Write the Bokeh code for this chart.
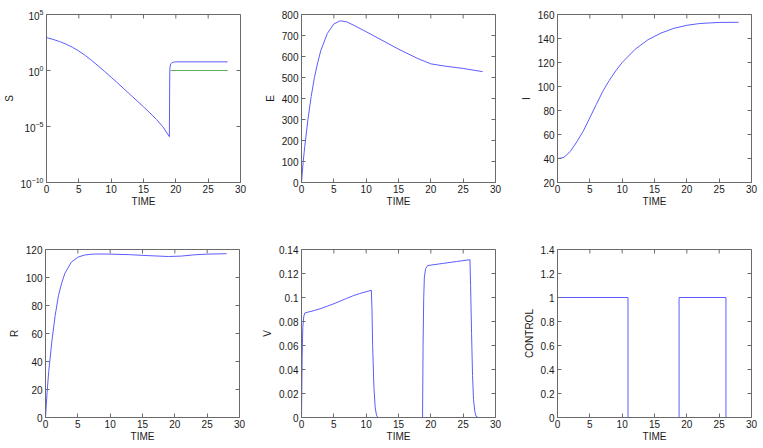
import math
from bokeh.plotting import figure
from bokeh.layouts import column, row
from bokeh.models import (FixedTicker, CustomJSTickFormatter, Range1d, LogTickFormatter)
from bokeh.embed import file_html
from bokeh.resources import INLINE

# ---------------- data ----------------
time_ticks = [0, 5, 10, 15, 20, 25, 30]

s_time = [0, 1, 2, 3, 4, 5, 6, 7, 8, 9, 10, 11, 12, 13, 14, 15, 16, 17, 18, 19.0,
          19.03, 19.06, 19.1, 19.2, 19.4, 19.7, 20, 22, 25, 28]
s_vals = [871, 603, 389, 229, 120, 55.0, 21.9, 7.76, 2.57, 0.813, 0.251, 0.0759,
          0.0224, 0.0066, 0.00195, 5.75e-4, 1.62e-4, 4.27e-5, 9.3e-6, 1.23e-6,
          1e-3, 0.5, 2.0, 3.8, 5.0, 5.7, 5.9, 5.9, 5.9, 5.9]
s2_time = [19.2, 28]
s2_vals = [1.0, 1.0]
s_ticks = [1e-10, 1e-5, 1, 1e5]

e_time = [0, 0.25, 0.5, 1, 1.5, 2, 2.5, 3, 4, 5, 6, 7, 8, 10, 12, 15, 18, 20, 22, 25, 28]
e_vals = [0, 95, 170, 300, 410, 500, 570, 630, 710, 755, 770, 765, 750, 718, 685,
          635, 590, 565, 555, 543, 528]
e_ticks = [0, 100, 200, 300, 400, 500, 600, 700, 800]

i_time = [0, 0.5, 1, 2, 3, 4, 5, 6, 7, 8, 9, 10, 12, 14, 16, 18, 20, 22, 25, 28]
i_vals = [40, 40.3, 41, 46, 54, 63, 74, 85, 96, 105, 113, 120, 131, 139, 144.5,
          148.5, 151, 152.5, 153.4, 153.5]
i_ticks = [20, 40, 60, 80, 100, 120, 140, 160]

r_time = [0, 0.25, 0.5, 1, 1.5, 2, 2.5, 3, 4, 5, 6, 7, 8, 10, 13, 16, 19, 21, 23, 25, 28]
r_vals = [0, 18, 33, 55, 73, 87, 96, 103, 111, 114.5, 116, 116.6, 116.8, 116.7,
          116.3, 115.6, 115.0, 115.3, 116.2, 116.7, 117.0]
r_ticks = [0, 20, 40, 60, 80, 100, 120]

v_time = [0, 0.1, 0.2, 0.35, 0.5, 1, 2, 3, 4, 5, 6, 7, 8, 9, 10, 10.8, 10.9, 11.0,
          11.2, 11.4, 11.6, 11.8, 18.72, 18.8, 18.9, 19.0, 19.2, 19.5, 20, 22, 24,
          26.05, 26.15, 26.3, 26.45, 26.6, 26.8, 27.0, 27.3, 28]
v_vals = [0, 0.05, 0.075, 0.084, 0.087, 0.0878, 0.0892, 0.0908, 0.0928, 0.0948,
          0.097, 0.0993, 0.1015, 0.1033, 0.1048, 0.106, 0.09, 0.06, 0.025, 0.008,
          0.002, 0, 0, 0.06, 0.1, 0.117, 0.124, 0.1265, 0.127, 0.1285, 0.130, 0.1315,
          0.11, 0.07, 0.035, 0.015, 0.005, 0.001, 0, 0]
v_ticks = [0, 0.02, 0.04, 0.06, 0.08, 0.1, 0.12, 0.14]

c_time = [0, 10.9, 10.9, 18.8, 18.8, 26.05, 26.05, 28]
c_vals = [1, 1, 0, 0, 1, 1, 0, 0]
c_ticks = [0, 0.2, 0.4, 0.6, 0.8, 1, 1.2, 1.4]

# ---------------- styling ----------------
FONT = "Liberation Sans"
FS = "10px"
LINE = "#6a6a6a"
TEXT = "#1a1a1a"
BLUE = "#5c5cff"
GREEN = "#5fae5f"
FRAME_W, FRAME_H = 194, 168

fmt = CustomJSTickFormatter(code="return String(Math.round(tick*1000)/1000);")


def style_axis(ax, ticks):
    ax.ticker = FixedTicker(ticks=ticks, minor_ticks=[])
    ax.major_tick_in = 4
    ax.major_tick_out = 0
    ax.minor_tick_in = 0
    ax.minor_tick_out = 0
    ax.axis_line_color = LINE
    ax.major_tick_line_color = LINE
    ax.major_label_text_font = FONT
    ax.major_label_text_font_size = FS
    ax.major_label_text_color = TEXT
    ax.axis_label_text_font = FONT
    ax.axis_label_text_font_size = FS
    ax.axis_label_text_font_style = "normal"
    ax.axis_label_text_color = TEXT


def make(ylabel, yticks, yrange, borders, log=False):
    left, right, top, bottom = borders
    kw = dict(y_axis_type="log") if log else {}
    p = figure(frame_width=FRAME_W, frame_height=FRAME_H, output_backend="svg",
               toolbar_location=None, x_range=Range1d(0, 30),
               y_range=Range1d(*yrange), min_border_left=left,
               min_border_right=right, min_border_top=top,
               min_border_bottom=bottom, **kw)
    p.grid.visible = False
    p.outline_line_color = LINE
    p.outline_line_alpha = 1
    xa = p.xaxis[0]
    style_axis(xa, time_ticks)
    xa.formatter = fmt
    xa.axis_label = "TIME"
    xa.major_label_standoff = 2
    xa.axis_label_standoff = 0
    ya = p.yaxis[0]
    style_axis(ya, yticks)
    ya.axis_label = ylabel
    ya.major_label_standoff = 3
    ya.axis_label_standoff = 3
    ya.formatter = LogTickFormatter() if log else fmt
    # inward ticks on the top and right edges of the box
    p.scatter(x=time_ticks, y=[yrange[1]] * len(time_ticks), marker="dash",
              angle=math.pi / 2, size=8, line_color=LINE, line_width=1)
    p.scatter(x=[30] * len(yticks), y=yticks, marker="dash",
              size=8, line_color=LINE, line_width=1)
    return p


pS = make("S", s_ticks, (1e-10, 1e5), (45, 20, 14, 33), log=True)
pS.line(s_time, s_vals, line_color=BLUE, line_width=1)
pS.line(s2_time, s2_vals, line_color=GREEN, line_width=1)

pE = make("E", e_ticks, (0, 800), (41, 21, 14, 33))
pE.line(e_time, e_vals, line_color=BLUE, line_width=1)

pI = make("I", i_ticks, (20, 160), (41, 12, 14, 33))
pI.line(i_time, i_vals, line_color=BLUE, line_width=1)

pR = make("R", r_ticks, (0, 120), (45, 20, 34, 30))
pR.line(r_time, r_vals, line_color=BLUE, line_width=1)

pV = make("V", v_ticks, (0, 0.14), (41, 21, 34, 30))
pV.line(v_time, v_vals, line_color=BLUE, line_width=1)

pC = make("CONTROL", c_ticks, (0, 1.4), (41, 12, 34, 30))
pC.line(c_time, c_vals, line_color=BLUE, line_width=1)

layout = column(row(pS, pE, pI), row(pR, pV, pC))

open("out.html", "w").write(file_html(layout, INLINE))
